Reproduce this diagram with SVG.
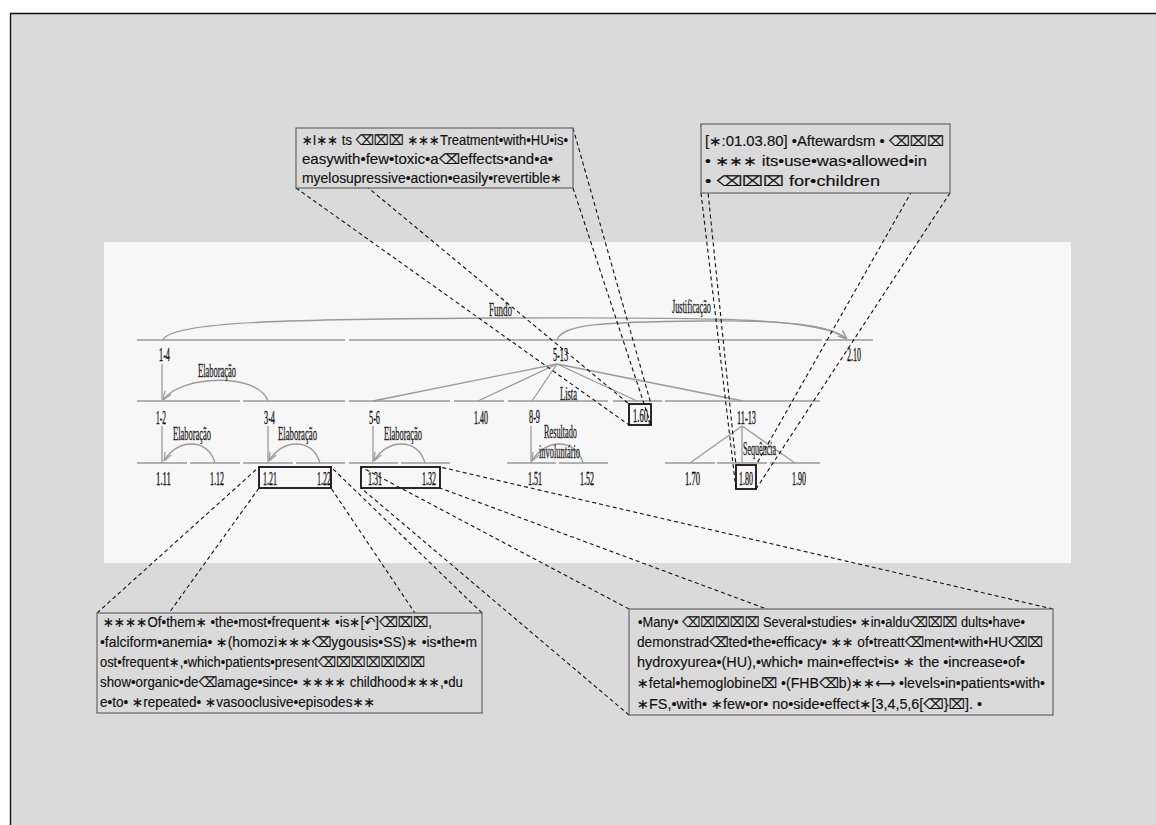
<svg xmlns="http://www.w3.org/2000/svg" width="1156" height="825" viewBox="0 0 1156 825">
  <defs>
    <style>
      .span { stroke: #9a9a9a; stroke-width: 1.6; fill: none; }
      .rel { stroke: #9a9a9a; stroke-width: 1.3; fill: none; }
      .lbl { font-family: "Liberation Serif", serif; font-size: 19px; fill: #111; stroke: #111; stroke-width: 0.35; }
      .rl { font-family: "Liberation Serif", serif; font-size: 18px; fill: #222; stroke: #222; stroke-width: 0.3; }
      .sel { fill: none; stroke: #111; stroke-width: 1.8; }
      .dash { stroke: #111; stroke-width: 1.1; stroke-dasharray: 4 3; fill: none; }
      .note { fill: #dadada; stroke: #666; stroke-width: 1.2; }
      .nt { font-family: "Liberation Sans", "DejaVu Sans", sans-serif; font-size: 14px; fill: #111; stroke: #111; stroke-width: 0.15; }
    </style>
    <marker id="ah" viewBox="0 0 10 10" refX="10" refY="5" markerWidth="9" markerHeight="9" markerUnits="userSpaceOnUse" orient="auto">
      <path d="M0,1 L10,5 L0,9" fill="none" stroke="#9a9a9a" stroke-width="1.3"/>
    </marker>
  </defs>

  <!-- page frame -->
  <rect x="0" y="0" width="1156" height="825" fill="#ffffff"/>
  <rect x="11" y="14" width="1145" height="811" fill="#dadada"/>
  <path d="M10.5,825 V13.5 H1156" fill="none" stroke="#111" stroke-width="1.4"/>

  <!-- tree panel -->
  <rect x="104" y="242" width="967" height="321" fill="#f7f7f7"/>

  <!-- level 0 spans -->
  <g id="n-1-4"><line class="span" x1="137" y1="340" x2="345" y2="340"/><text class="lbl" x="159" y="361" textLength="11" lengthAdjust="spacingAndGlyphs">1-4</text></g>
  <g id="n-5-13"><line class="span" x1="349" y1="340" x2="822" y2="340"/><text class="lbl" x="553" y="361" textLength="15" lengthAdjust="spacingAndGlyphs">5-13</text></g>
  <g id="n-2-10"><line class="span" x1="825" y1="340" x2="873" y2="340"/><text class="lbl" x="847" y="361" textLength="14" lengthAdjust="spacingAndGlyphs">2.10</text></g>

  <!-- level 1 spans -->
  <g id="n-1-2"><line class="span" x1="137" y1="401" x2="240" y2="401"/><text class="lbl" x="156" y="424" textLength="10" lengthAdjust="spacingAndGlyphs">1-2</text></g>
  <g id="n-3-4"><line class="span" x1="243" y1="401" x2="345" y2="401"/><text class="lbl" x="264" y="424" textLength="11" lengthAdjust="spacingAndGlyphs">3-4</text></g>
  <g id="n-5-6"><line class="span" x1="349" y1="401" x2="450" y2="401"/><text class="lbl" x="369" y="424" textLength="11" lengthAdjust="spacingAndGlyphs">5-6</text></g>
  <g id="n-1-40"><line class="span" x1="454" y1="401" x2="504" y2="401"/><text class="lbl" x="474" y="424" textLength="14" lengthAdjust="spacingAndGlyphs">1.40</text></g>
  <g id="n-8-9"><line class="span" x1="508" y1="401" x2="608" y2="401"/><text class="lbl" x="529" y="423" textLength="11" lengthAdjust="spacingAndGlyphs">8-9</text></g>
  <g id="n-1-60"><line class="span" x1="613" y1="401" x2="662" y2="401"/><text class="lbl" x="633" y="422" textLength="17" lengthAdjust="spacingAndGlyphs">1.60,</text><rect class="sel" x="629" y="404" width="22" height="21"/></g>
  <g id="n-11-13"><line class="span" x1="665" y1="401" x2="820" y2="401"/><text class="lbl" x="737" y="424" textLength="19" lengthAdjust="spacingAndGlyphs">11-13</text></g>

  <!-- level 2 spans -->
  <g id="n-1-11"><line class="span" x1="137" y1="463" x2="187" y2="463"/><text class="lbl" x="156" y="485" textLength="15" lengthAdjust="spacingAndGlyphs">1.11</text></g>
  <g id="n-1-12"><line class="span" x1="190" y1="463" x2="240" y2="463"/><text class="lbl" x="210" y="485" textLength="14" lengthAdjust="spacingAndGlyphs">1.12</text></g>
  <g id="n-1-21"><line class="span" x1="243" y1="463" x2="293" y2="463"/><text class="lbl" x="263" y="485" textLength="14" lengthAdjust="spacingAndGlyphs">1.21</text></g>
  <g id="n-1-22"><line class="span" x1="296" y1="463" x2="345" y2="463"/><text class="lbl" x="317" y="485" textLength="14" lengthAdjust="spacingAndGlyphs">1.22</text></g>
  <g id="n-1-31"><line class="span" x1="349" y1="463" x2="398" y2="463"/><text class="lbl" x="368" y="485" textLength="14" lengthAdjust="spacingAndGlyphs">1.31</text></g>
  <g id="n-1-32"><line class="span" x1="401" y1="463" x2="450" y2="463"/><text class="lbl" x="422" y="485" textLength="14" lengthAdjust="spacingAndGlyphs">1.32</text></g>
  <g id="n-1-51"><line class="span" x1="507" y1="463" x2="556" y2="463"/><text class="lbl" x="528" y="485" textLength="14" lengthAdjust="spacingAndGlyphs">1.51</text></g>
  <g id="n-1-52"><line class="span" x1="559" y1="463" x2="608" y2="463"/><text class="lbl" x="580" y="485" textLength="14" lengthAdjust="spacingAndGlyphs">1.52</text></g>
  <g id="n-1-70"><line class="span" x1="665" y1="463" x2="715" y2="463"/><text class="lbl" x="685" y="485" textLength="15" lengthAdjust="spacingAndGlyphs">1.70</text></g>
  <g id="n-1-80"><line class="span" x1="717" y1="463" x2="767" y2="463"/><text class="lbl" x="739" y="485" textLength="14" lengthAdjust="spacingAndGlyphs">1.80</text><rect class="sel" x="736" y="465" width="20" height="24"/></g>
  <g id="n-1-90"><line class="span" x1="770" y1="463" x2="820" y2="463"/><text class="lbl" x="792" y="485" textLength="14" lengthAdjust="spacingAndGlyphs">1.90</text></g>

  <!-- selections spanning two leaves -->
  <g id="sel-1-21-1-22"><rect class="sel" x="259" y="467" width="72" height="21"/></g>
  <g id="sel-1-31-1-32"><rect class="sel" x="361" y="467" width="79" height="21"/></g>

  <!-- relations -->
  <g id="connectors">
    <path class="rel" d="M163,340 C170,321 300,319 505,318 C720,317 822,318 847,339" marker-end="url(#ah)"/>
    <text class="rl" x="489" y="316" textLength="23" lengthAdjust="spacingAndGlyphs">Fundo</text>
    <path class="rel" d="M557,340 C563,324 600,322 702,321 C790,320 830,325 847,339" marker-end="url(#ah)"/>
    <text class="rl" x="672" y="313" textLength="39" lengthAdjust="spacingAndGlyphs">Justificação</text>

    <line class="rel" x1="162" y1="364" x2="162" y2="401"/>
    <path class="rel" d="M268,401 C258,372 180,375 163,400" marker-end="url(#ah)"/>
    <text class="rl" x="198" y="377" textLength="38" lengthAdjust="spacingAndGlyphs">Elaboração</text>

    <line class="rel" x1="557" y1="364" x2="373" y2="401"/>
    <line class="rel" x1="557" y1="364" x2="478" y2="401"/>
    <line class="rel" x1="557" y1="364" x2="532" y2="401"/>
    <line class="rel" x1="557" y1="364" x2="637" y2="401"/>
    <line class="rel" x1="557" y1="364" x2="743" y2="401"/>
    <text class="rl" x="560" y="400" textLength="17" lengthAdjust="spacingAndGlyphs">Lista</text>

    <line class="rel" x1="162" y1="426" x2="162" y2="463"/>
    <path class="rel" d="M215,463 C208,437 176,439 164,461" marker-end="url(#ah)"/>
    <text class="rl" x="173" y="440" textLength="38" lengthAdjust="spacingAndGlyphs">Elaboração</text>

    <line class="rel" x1="268" y1="426" x2="268" y2="463"/>
    <path class="rel" d="M320,463 C313,437 281,439 269,461" marker-end="url(#ah)"/>
    <text class="rl" x="278" y="440" textLength="39" lengthAdjust="spacingAndGlyphs">Elaboração</text>

    <line class="rel" x1="373" y1="426" x2="373" y2="463"/>
    <path class="rel" d="M425,463 C418,437 386,439 374,461" marker-end="url(#ah)"/>
    <text class="rl" x="384" y="440" textLength="38" lengthAdjust="spacingAndGlyphs">Elaboração</text>

    <line class="rel" x1="531" y1="426" x2="531" y2="463"/>
    <path class="rel" d="M583,463 C576,437 544,439 532,461" marker-end="url(#ah)"/>
    <text class="rl" x="544" y="438" textLength="33" lengthAdjust="spacingAndGlyphs">Resultado</text>
    <text class="rl" x="539" y="458" textLength="41" lengthAdjust="spacingAndGlyphs">involuntário</text>

    <line class="rel" x1="742" y1="426" x2="690" y2="463"/>
    <line class="rel" x1="742" y1="426" x2="742" y2="463"/>
    <line class="rel" x1="742" y1="426" x2="795" y2="463"/>
    <text class="rl" x="743" y="455" textLength="33" lengthAdjust="spacingAndGlyphs">Sequência</text>
  </g>

  <!-- dashed callout leaders, corner to corner -->
  <g id="leaders">
    <line class="dash" x1="296" y1="128" x2="629" y2="404"/>
    <line class="dash" x1="296" y1="188" x2="629" y2="425"/>
    <line class="dash" x1="573" y1="128" x2="651" y2="404"/>
    <line class="dash" x1="573" y1="188" x2="651" y2="425"/>

    <line class="dash" x1="701" y1="124" x2="736" y2="465"/>
    <line class="dash" x1="701" y1="193" x2="736" y2="489"/>
    <line class="dash" x1="950" y1="124" x2="756" y2="465"/>
    <line class="dash" x1="950" y1="193" x2="756" y2="489"/>

    <line class="dash" x1="97" y1="613" x2="259" y2="467"/>
    <line class="dash" x1="97" y1="713" x2="259" y2="488"/>
    <line class="dash" x1="482" y1="613" x2="331" y2="467"/>
    <line class="dash" x1="482" y1="713" x2="331" y2="488"/>

    <line class="dash" x1="629" y1="609" x2="361" y2="467"/>
    <line class="dash" x1="629" y1="715" x2="361" y2="488"/>
    <line class="dash" x1="1053" y1="609" x2="440" y2="467"/>
    <line class="dash" x1="1053" y1="715" x2="440" y2="488"/>
  </g>

  <!-- callout notes -->
  <g id="note-1-60">
    <rect class="note" x="296" y="128" width="277" height="60"/>
    <text class="nt" x="302" y="145" textLength="266" lengthAdjust="spacingAndGlyphs">∗I∗∗ ts ⌫⌧⌧ ∗∗∗Treatment•with•HU•is•</text>
    <text class="nt" x="302" y="164" textLength="251" lengthAdjust="spacingAndGlyphs">easywith•few•toxic•a⌫effects•and•a•</text>
    <text class="nt" x="302" y="183" textLength="260" lengthAdjust="spacingAndGlyphs">myelosupressive•action•easily•revertible∗</text>
  </g>

  <g id="note-1-80">
    <rect class="note" x="701" y="124" width="249" height="69"/>
    <text class="nt" x="705" y="146" textLength="239" lengthAdjust="spacingAndGlyphs">[∗:01.03.80] •Aftewardsm • ⌫⌧⌧</text>
    <text class="nt" x="705" y="166" textLength="222" lengthAdjust="spacingAndGlyphs">• ∗∗∗ its•use•was•allowed•in</text>
    <text class="nt" x="705" y="186" textLength="175" lengthAdjust="spacingAndGlyphs">• ⌫⌧⌧ for•children</text>
  </g>

  <g id="note-1-21">
    <rect class="note" x="97" y="613" width="385" height="100"/>
    <text class="nt" x="103" y="627" textLength="329" lengthAdjust="spacingAndGlyphs">∗∗∗∗Of•them∗ •the•most•frequent∗ •is∗[↶]⌫⌧⌧,</text>
    <text class="nt" x="100" y="647" textLength="377" lengthAdjust="spacingAndGlyphs">•falciform•anemia• ∗(homozi∗∗∗⌫ygousis•SS)∗ •is•the•m</text>
    <text class="nt" x="100" y="667" textLength="325" lengthAdjust="spacingAndGlyphs">ost•frequent∗,•which•patients•present⌫⌧⌧⌧⌧⌧⌧</text>
    <text class="nt" x="100" y="687" textLength="363" lengthAdjust="spacingAndGlyphs">show•organic•de⌫amage•since• ∗∗∗∗ childhood∗∗∗,•du</text>
    <text class="nt" x="100" y="707" textLength="275" lengthAdjust="spacingAndGlyphs">e•to• ∗repeated• ∗vasooclusive•episodes∗∗</text>
  </g>

  <g id="note-1-31">
    <rect class="note" x="629" y="609" width="424" height="106"/>
    <text class="nt" x="638" y="627" textLength="387" lengthAdjust="spacingAndGlyphs">•Many• ⌫⌧⌧⌧⌧ Several•studies• ∗in•aldu⌫⌧⌧ dults•have•</text>
    <text class="nt" x="637" y="647" textLength="406" lengthAdjust="spacingAndGlyphs">demonstrad⌫ted•the•efficacy• ∗∗ of•treatt⌫ment•with•HU⌫⌧</text>
    <text class="nt" x="637" y="667" textLength="388" lengthAdjust="spacingAndGlyphs">hydroxyurea•(HU),•which• main•effect•is• ∗ the •increase•of•</text>
    <text class="nt" x="637" y="688" textLength="408" lengthAdjust="spacingAndGlyphs">∗fetal•hemoglobine⌧ •(FHB⌫b)∗∗⟷ •levels•in•patients•with•</text>
    <text class="nt" x="637" y="709" textLength="345" lengthAdjust="spacingAndGlyphs">∗FS,•with• ∗few•or• no•side•effect∗[3,4,5,6[⌫}⌧]. •</text>
  </g>
</svg>
